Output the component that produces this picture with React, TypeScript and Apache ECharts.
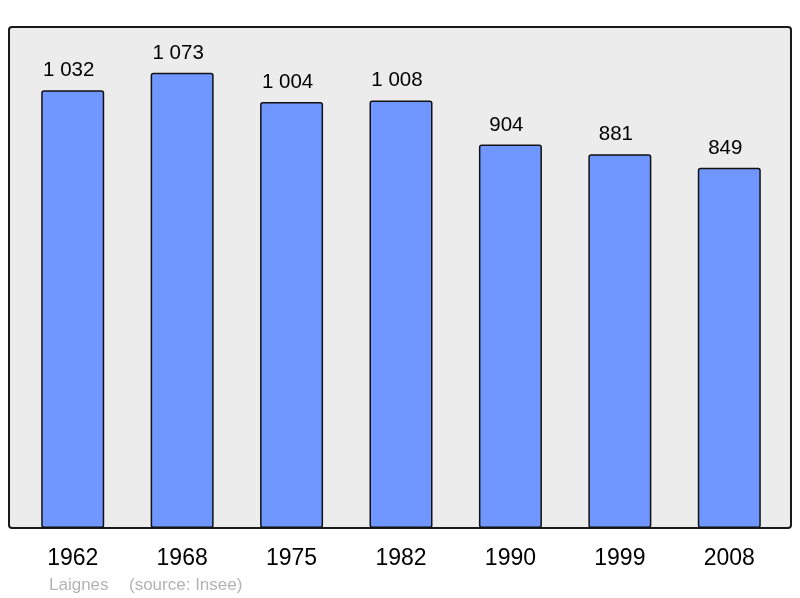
import React, { useEffect, useRef } from "react";
import * as echarts from "echarts";

const years = ["1962", "1968", "1975", "1982", "1990", "1999", "2008"];
const population = [1032, 1073, 1004, 1008, 904, 881, 849];
const placeName = "Laignes";
const sourceText = "(source: Insee)";

function fmt(v: number): string {
  return String(v).replace(/\B(?=(\d{3})+(?!\d))/g, " ");
}

export default function App() {
  const ref = useRef<HTMLDivElement>(null);
  useEffect(() => {
    if (!ref.current) return;
    const chart = echarts.init(ref.current, undefined, { renderer: "svg" });
    chart.setOption({
      animation: false,
      textStyle: { fontFamily: "Liberation Sans, Arial, sans-serif" },
      grid: { left: 18, right: 16, top: 27, bottom: 70 },
      graphic: [
        {
          type: "rect",
          z: 0,
          shape: { x: 9, y: 27, width: 782, height: 501, r: 3 },
          style: { fill: "#ececec", stroke: "#1a1a1a", lineWidth: 2 },
          silent: true,
        },
        {
          type: "text",
          z: 5,
          x: 49,
          y: 584,
          style: {
            text: placeName,
            fill: "#b3b3b3",
            fontSize: 17,
            fontFamily: "Liberation Sans, Arial, sans-serif",
            verticalAlign: "middle",
          },
        },
        {
          type: "text",
          z: 5,
          x: 129,
          y: 584,
          style: {
            text: sourceText,
            fill: "#b3b3b3",
            fontSize: 17,
            fontFamily: "Liberation Sans, Arial, sans-serif",
            verticalAlign: "middle",
          },
        },
      ],
      xAxis: {
        type: "category",
        data: years,
        axisLine: { show: false },
        axisTick: { show: false },
        axisLabel: {
          fontSize: 23,
          color: "#000",
          margin: 17,
          fontFamily: "Liberation Sans, Arial, sans-serif",
        },
      },
      yAxis: {
        type: "value",
        min: 0,
        max: 1181,
        show: false,
        splitLine: { show: false },
      },
      series: [
        {
          type: "bar",
          data: population,
          barWidth: 63,
          z: 3,
          itemStyle: {
            color: "#7096ff",
            borderColor: "#111",
            borderWidth: 1.5,
            borderRadius: 2,
          },
          label: {
            show: true,
            position: "top",
            distance: 11,
            offset: [-4, 0],
            fontSize: 20.5,
            color: "#000",
            fontFamily: "Liberation Sans, Arial, sans-serif",
            formatter: (p: any) => fmt(p.value),
          },
        },
      ],
    });
    return () => chart.dispose();
  }, []);
  return (
    <div
      ref={ref}
      style={{ position: "fixed", left: 0, top: 0, width: 800, height: 598 }}
    />
  );
}
